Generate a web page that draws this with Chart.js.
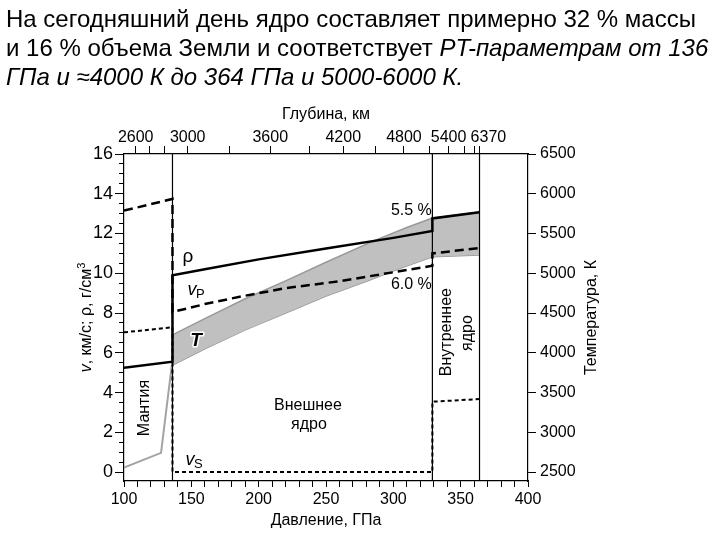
<!DOCTYPE html>
<html><head><meta charset="utf-8">
<script src="https://cdn.jsdelivr.net/npm/chart.js@4.4.0/dist/chart.umd.min.js"></script>
<style>
html,body{margin:0;padding:0;background:#fff;}
#wrap{position:relative;width:720px;height:540px;overflow:hidden;}
#hdr{position:absolute;left:6px;top:4px;font-family:"Liberation Sans",Arial,sans-serif;font-size:24px;line-height:29px;color:#000;white-space:nowrap;}
canvas{position:absolute;left:0;top:0;}
</style></head>
<body><div id="wrap"><canvas id="c" width="720" height="540"></canvas>
<div id="hdr">На сегодняшний день ядро составляет примерно 32 % массы<br>и 16 % объема Земли и соответствует <i>PT-параметрам от 136</i><br><i>ГПа и ≈4000 К до 364 ГПа и 5000-6000 К.</i></div></div>
<script>
// ---- data (pressure in GPa) ----
const boundaryP = [136, 329, 364];
const rhoP = [100, 136, 136, 160, 200, 250, 300, 329, 329, 364];
const rhoV = [5.25, 5.55, 9.9, 10.2, 10.7, 11.25, 11.78, 12.13, 12.76, 13.07];
const vpP  = [100, 136, 136, 160, 186, 220, 260, 300, 329, 329, 364];
const vpV  = [13.15, 13.74, 8.05, 8.45, 8.82, 9.25, 9.6, 10.05, 10.38, 11.0, 11.27];
const vsP  = [100, 136, 136, 329, 329, 364];
const vsV  = [7.03, 7.28, 0, 0, 3.54, 3.67];
const tMantleP = [100, 127.5, 135.5];
const tMantleK = [2555, 2742, 3845];
const tUpperP = [136, 160, 190, 220, 250, 285, 310, 329, 364];
const tUpperK = [4225, 4430, 4680, 4905, 5138, 5405, 5575, 5695, 5770];
const tLowerP = [136, 160, 190, 220, 250, 280, 305, 329, 364];
const tLowerK = [3845, 4050, 4288, 4500, 4713, 4900, 5063, 5208, 5230];
// axis ticks
const tempTicks = [2500, 3000, 3500, 4000, 4500, 5000, 5500, 6000, 6500];
const depthTickP = [108.7, 119.3, 130.4, 147.3, 178.2, 208.6, 237.4, 262.8, 286.6, 307.9, 326.7, 341.0, 352.8, 360.1, 364];
const depthTickLabels = ['2600','','','3000','','3600','','4200','','4800','','5400','','','    6370'];
const vMin = -0.45, vMax = 16, tMin = 2387.5, tMax = 6500;

const annotations = [
  {t:'ρ', p:147.5, v:10.82, kind:'rho'},
  {t:'v', sub:'P', p:150.5, v:9.16, kind:'vsub'},
  {t:'T', p:153.5, v:6.6, kind:'T'},
  {t:'Мантия', p:115.6, v:3.22, kind:'rot'},
  {t:'Внешнее', p:236.6, v:3.32, kind:'txt'},
  {t:'ядро', p:237.3, v:2.37, kind:'txt'},
  {t:'Внутреннее', p:339.8, v:7.04, kind:'rot'},
  {t:'ядро', p:355.1, v:6.99, kind:'rot'},
  {t:'v', sub:'S', p:149, v:0.6, kind:'vsub'},
  {t:'5.5 %', p:313.4, v:13.13, kind:'txt'},
  {t:'6.0 %', p:313.4, v:9.41, kind:'txt'}
];

const pts = (xs, ys) => xs.map((x, i) => ({x, y: ys[i]}));
const FONT = '"Liberation Sans", Arial, sans-serif';

const datasets = [
  {data: pts(rhoP, rhoV), borderColor:'#000', borderWidth:2.5, yAxisID:'y'},
  {data: pts(vpP, vpV), borderColor:'#000', borderWidth:2.5, borderDash:[9,5], yAxisID:'y'},
  {data: pts(vsP, vsV), borderColor:'#000', borderWidth:2, borderDash:[4,3], yAxisID:'y'},
  ...boundaryP.map(p => ({data: pts([p, p], [vMin, vMax]), borderColor:'#000', borderWidth:1.2, yAxisID:'y'})),
  {data: pts(tMantleP, tMantleK), borderColor:'#a3a3a3', borderWidth:2, yAxisID:'y2'},
  {data: pts(tUpperP, tUpperK), borderColor:'#999', borderWidth:1.5, yAxisID:'y2', fill:'+1', backgroundColor:'#c0c0c0'},
  {data: pts(tLowerP, tLowerK), borderColor:'#999', borderWidth:1.5, yAxisID:'y2'}
];

// rotated text made of runs [{text, font, dy}] drawn centred at (cx, cy), reading bottom-to-top
function drawRotatedRuns(ctx, runs, cx, cy) {
  ctx.save();
  ctx.translate(cx, cy); ctx.rotate(-Math.PI / 2);
  ctx.textAlign = 'left'; ctx.textBaseline = 'middle';
  let total = 0;
  runs.forEach(r => { ctx.font = r.font; r.w = ctx.measureText(r.text).width; total += r.w; });
  let x = -total / 2;
  runs.forEach(r => { ctx.font = r.font; ctx.fillText(r.text, x, r.dy || 0); x += r.w; });
  ctx.restore();
}

const annoPlugin = {
  id:'anno',
  afterDatasetsDraw(chart) {
    const ctx = chart.ctx, xs = chart.scales.x, ys = chart.scales.y;
    ctx.save();
    ctx.fillStyle = '#000';
    ctx.textBaseline = 'middle';
    annotations.forEach(a => {
      const x = xs.getPixelForValue(a.p), y = ys.getPixelForValue(a.v);
      if (a.kind === 'rho') {
        ctx.font = '19px ' + FONT; ctx.textAlign = 'center'; ctx.fillText(a.t, x, y);
      } else if (a.kind === 'vsub') {
        ctx.font = 'italic 18px ' + FONT; ctx.textAlign = 'center'; ctx.fillText(a.t, x, y);
        ctx.font = '13px ' + FONT; ctx.textAlign = 'left'; ctx.fillText(a.sub, x + 4, y + 4);
      } else if (a.kind === 'T') {
        ctx.font = 'bold italic 19px ' + FONT; ctx.textAlign = 'center';
        ctx.lineWidth = 3; ctx.strokeStyle = '#fff'; ctx.lineJoin = 'round';
        ctx.strokeText(a.t, x, y); ctx.fillText(a.t, x, y);
      } else if (a.kind === 'rot') {
        drawRotatedRuns(ctx, [{text:a.t, font:'16px ' + FONT}], x, y);
      } else {
        ctx.font = '16px ' + FONT; ctx.textAlign = 'center'; ctx.fillText(a.t, x, y);
      }
    });
    ctx.restore();
  },
  afterDraw(chart) {
    const ctx = chart.ctx, a = chart.chartArea;
    const cy = (a.top + a.bottom) / 2;
    ctx.save(); ctx.fillStyle = '#000';
    const yl = chart.scales.y, yr = chart.scales.y2;
    drawRotatedRuns(ctx, [
      {text:'v', font:'italic 16px ' + FONT},
      {text:', км/с; ρ, г/см', font:'16px ' + FONT},
      {text:'3', font:'11px ' + FONT, dy:-5}
    ], yl.left + 13.6, cy);
    drawRotatedRuns(ctx, [{text:'Температура, К', font:'16px ' + FONT}], yr.right - 13.6, cy);
    ctx.restore();
  }
};

const tickFont = {family: FONT, size: 16};
const titleFont = {family: FONT, size: 16};
const axisBorder = {display:true, color:'#000', width:1.2};

new Chart(document.getElementById('c'), {
  type:'line',
  data:{datasets},
  options:{
    responsive:false, animation:false, devicePixelRatio:1,
    layout:{padding:{left:73.4, right:114.9, top:101.4, bottom:5.4}},
    elements:{point:{radius:0}, line:{tension:0, fill:false}},
    plugins:{legend:{display:false}, tooltip:{enabled:false}},
    scales:{
      x:{type:'linear', position:'bottom', min:100, max:400,
         border:axisBorder,
         grid:{drawOnChartArea:false, tickLength:6, tickColor:'#000', tickWidth:1},
         ticks:{stepSize:10, autoSkip:false, maxRotation:0, padding:3, color:'#000', font:tickFont,
                callback:v => (v % 50 === 0 ? String(v) : '')},
         title:{display:true, text:'Давление, ГПа', color:'#000', font:titleFont, padding:{top:4, bottom:4}},
         afterFit:s => { s.height = 53.6; }},
      x2:{type:'linear', position:'top', min:100, max:400,
          border:axisBorder,
          grid:{drawOnChartArea:false, tickLength:8, tickColor:'#000', tickWidth:1},
          afterBuildTicks:s => { s.ticks = depthTickP.map(v => ({value:v})); },
          ticks:{autoSkip:false, maxRotation:0, padding:0, color:'#000', font:{family:FONT, size:16, lineHeight:1},
                 callback:(v, i) => depthTickLabels[i]},
          title:{display:true, text:'Глубина, км', color:'#000', font:titleFont, padding:{top:4, bottom:4}},
          afterFit:s => { s.height = 52.6; }},
      y:{type:'linear', position:'left', min:vMin, max:vMax,
         border:axisBorder,
         grid:{drawOnChartArea:false, tickLength:9, tickColor:'#000', tickWidth:1,
               tickBorderDash:c => (c.tick && Math.abs(c.tick.value % 2) > 1e-6 ? [0, 4, 60] : [])},
         ticks:{stepSize:0.5, includeBounds:false, autoSkip:false, padding:2, color:'#000', font:{family:FONT, size:18},
                callback:v => (Math.abs(v % 2) < 1e-6 ? String(v) : '')},
         afterBuildTicks:s => { s.ticks = s.ticks.filter(t => t.value >= 0); },
         afterFit:s => { s.width = 50.6; }},
      y2:{type:'linear', position:'right', min:tMin, max:tMax,
          border:axisBorder,
          grid:{drawOnChartArea:false, tickLength:8, tickColor:'#000', tickWidth:1},
          afterBuildTicks:s => { s.ticks = tempTicks.map(v => ({value:v})); },
          ticks:{autoSkip:false, padding:4, color:'#000', font:tickFont, callback:v => String(v)},
          afterFit:s => { s.width = 77.1; }}
    }
  },
  plugins:[annoPlugin]
});
</script>
</body></html>
